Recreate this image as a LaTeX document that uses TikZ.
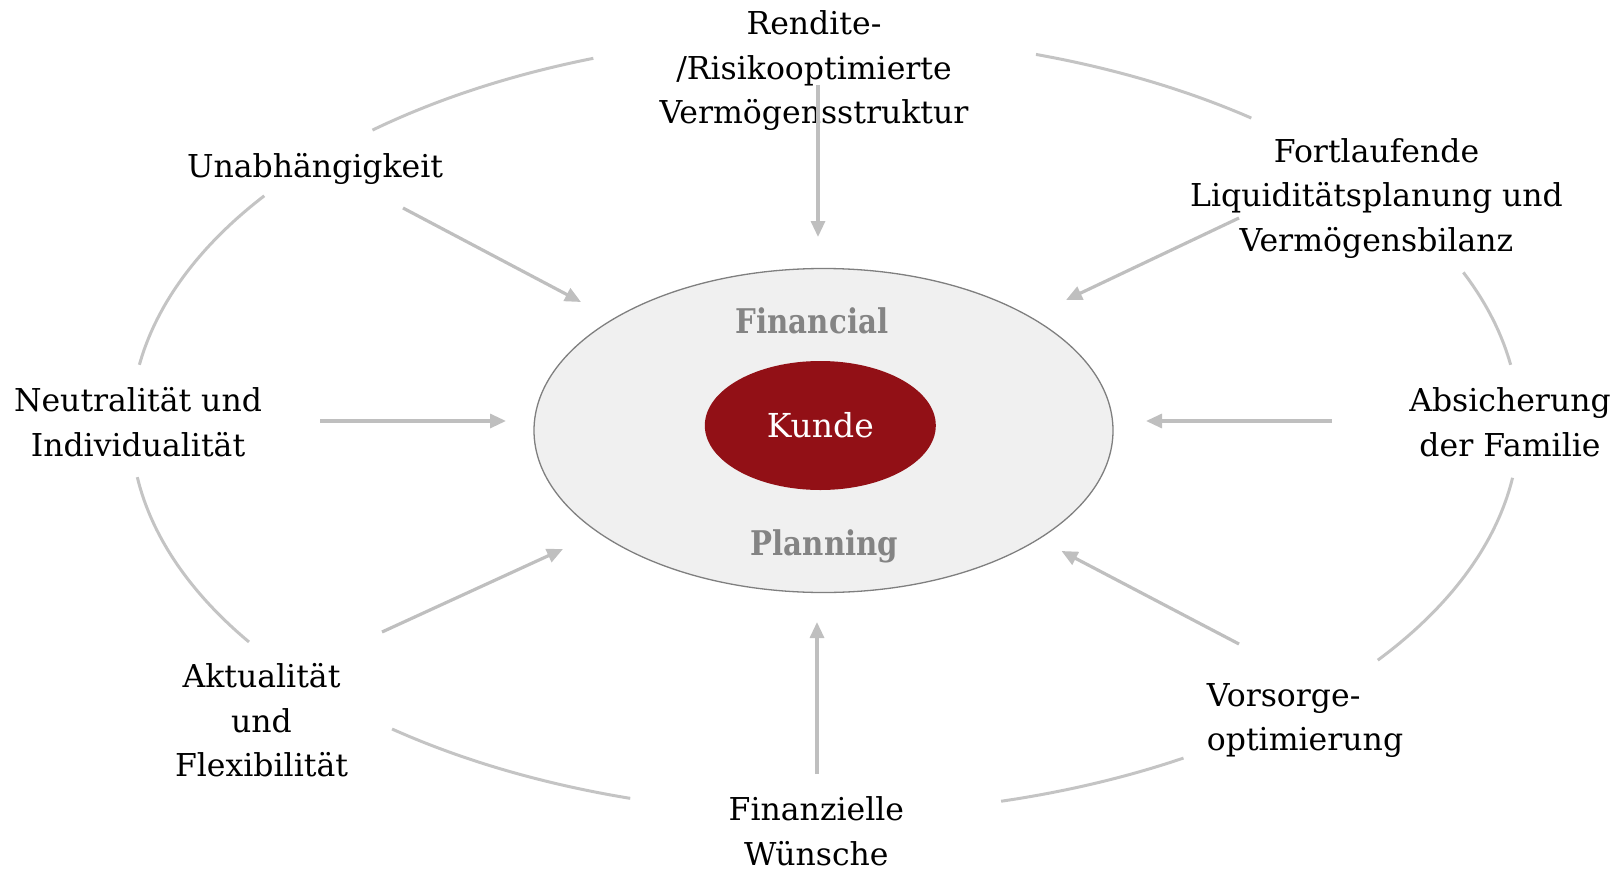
\documentclass[tikz,border=0pt]{standalone}
\usepackage{fontspec}
\setmainfont{DejaVu Serif}
\newfontfamily\fpfont[FakeStretch=0.86]{DejaVu Serif}
\usetikzlibrary{arrows.meta,shapes.geometric}
\definecolor{ringgray}{HTML}{C4C4C4}
\definecolor{arrgray}{HTML}{BFBFBF}
\definecolor{fpfill}{HTML}{F0F0F0}
\definecolor{fpline}{HTML}{7F7F7F}
\definecolor{fptext}{HTML}{848484}
\definecolor{kundered}{HTML}{921016}
\newcommand{\clines}[1]{\vtop{\halign{\hfil##\hfil\cr #1\crcr}}}
\newcommand{\llines}[1]{\vtop{\halign{##\hfil\cr #1\crcr}}}
\begin{document}
\begin{tikzpicture}[x=1pt,y=-1pt,
  lbl/.style={font=\fontsize{31.5}{44.5}\selectfont, inner sep=0pt, anchor=base, text=black},
  fplbl/.style={font=\fontsize{34}{40}\selectfont\fpfont\bfseries, inner sep=0pt, anchor=base, text=fptext},
  ring/.style={draw=ringgray, line width=3pt},
  arr/.style={draw=arrgray, line width=3.2pt, -{Triangle[length=16pt,width=14pt]}},
]
\useasboundingbox (0,0) rectangle (1621,872);

% outer ring arcs
\foreach \a/\b in {229.3/250.5, 188.9/216.1, 146.1/172.3, 106.3/128.6, 58.9/75.3, 7.8/37.2, -23.1/-8.9, -72.3/-52.1}{
  \draw[ring] plot[domain=\a:\b, samples=40] ({825+694*cos(\x)},{425+389*sin(\x)});
}

% central ellipses
\node[ellipse, draw=fpline, line width=1.3pt, fill=fpfill, minimum width=579pt, minimum height=324pt, inner sep=0pt] (fp) at (823.5,430.5) {};
\node[ellipse, fill=kundered, minimum width=231pt, minimum height=129pt, inner sep=0pt, text=white, font=\fontsize{33}{40}\selectfont] (kunde) at (820.3,425.5) {Kunde};
\node[fplbl] (fin) at (812,333) {Financial};
\node[fplbl] (plan) at (824.5,555.5) {Planning};

% labels
\node[lbl] (ren) at (814,35) {\clines{Rendite-\cr /Risikooptimierte\cr Vermögensstruktur}};
\node[lbl] (una) at (315,177.3) {Unabhängigkeit};
\node[lbl] (fort) at (1376.5,162.3) {\clines{Fortlaufende\cr Liquiditätsplanung und\cr Vermögensbilanz}};
\node[lbl] (neu) at (138,411.7) {\clines{Neutralität und\cr Individualität}};
\node[lbl] (abs) at (1510,411.7) {\clines{Absicherung\cr der Familie}};
\node[lbl] (akt) at (261.5,687.7) {\clines{Aktualität\cr und\cr Flexibilität}};
\node[lbl, anchor=base west] (vor) at (1206.7,706) {\llines{Vorsorge-\cr optimierung}};
\node[lbl] (wun) at (816.4,820.8) {\clines{Finanzielle\cr Wünsche}};

% arrow end points
\coordinate (s1) at (818,85);    \coordinate (e1) at (818,237);
\coordinate (s2) at (403,208);   \coordinate (e2) at (581,302);
\coordinate (s3) at (1239,218);  \coordinate (e3) at (1066,300);
\coordinate (s4) at (320,421);   \coordinate (e4) at (506,421);
\coordinate (s5) at (1332,421);  \coordinate (e5) at (1146,421);
\coordinate (s6) at (382,632);   \coordinate (e6) at (563,549);
\coordinate (s7) at (1239,644);  \coordinate (e7) at (1061.5,551);
\coordinate (s8) at (817,774);   \coordinate (e8) at (817,622);

\foreach \i in {1,...,8}{
  \draw[arr] (s\i) -- (e\i);
}
\end{tikzpicture}
\end{document}
